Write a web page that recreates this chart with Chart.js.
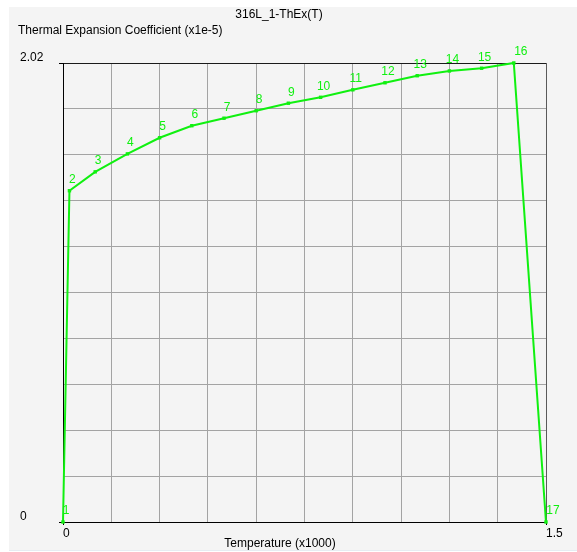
<!DOCTYPE html>
<html>
<head>
<meta charset="utf-8">
<script src="https://cdn.jsdelivr.net/npm/chart.js@4.4.0/dist/chart.umd.min.js"></script>
<style>
  html, body { margin: 0; padding: 0; background: #fff; }
</style>
</head>
<body>
<canvas id="thexChart" width="577" height="552"></canvas>
<script>
// values
const temperature = [0, 0.02, 0.1, 0.2, 0.3, 0.4, 0.5, 0.6, 0.7, 0.8, 0.9, 1.0, 1.1, 1.2, 1.3, 1.4, 1.5];
const coefficient = [0, 1.458, 1.541, 1.620, 1.691, 1.744, 1.777, 1.810, 1.843, 1.869, 1.902, 1.933, 1.964, 1.985, 1.997, 2.02, 0];
const pointNames = ['1', '2', '3', '4', '5', '6', '7', '8', '9', '10', '11', '12', '13', '14', '15', '16', '17'];
const xTickLabels = ['0', '1.5'];
const yTickLabels = ['0', '2.02'];
const xRange = [0, 1.5];
const yRange = [0, 2.02];
const gridDivisions = 10;

const chartTitle = '316L_1-ThEx(T)';
const yTitle = 'Thermal Expansion Coefficient (x1e-5)';
const xTitle = 'Temperature (x1000)';

const green = '#10f010';
const fontFamily = '"Liberation Sans", Arial, sans-serif';

Chart.defaults.font.family = fontFamily;
Chart.defaults.font.size = 12;
Chart.defaults.color = '#000';

// splits an axis range into evenly spaced grid ticks
const gridTicks = (range) => {
  const step = (range[1] - range[0]) / gridDivisions;
  return Array.from({ length: gridDivisions + 1 }, (_, i) => ({ value: range[0] + i * step }));
};

const edgeLabel = (labels) => (value, index) => {
  if (index === 0) return labels[0];
  if (index === gridDivisions) return labels[1];
  return '';
};

// gray panel behind the whole chart plus the free-standing texts
const framePlugin = {
  id: 'frame',
  beforeDraw(chart) {
    const ctx = chart.ctx;
    ctx.save();
    ctx.fillStyle = '#fff';
    ctx.fillRect(0, 0, chart.width, chart.height);
    ctx.fillStyle = '#f4f4f4';
    ctx.fillRect(9, 7, chart.width - 9, 543);
    ctx.fillStyle = '#e6ecf2';
    ctx.fillRect(9, 550, chart.width - 9, 1);
    ctx.restore();
  },
  afterDraw(chart) {
    const ctx = chart.ctx;
    ctx.save();
    ctx.fillStyle = '#000';
    ctx.font = '12px ' + fontFamily;
    ctx.textBaseline = 'middle';
    ctx.textAlign = 'center';
    ctx.fillText(chartTitle, 279, 15);
    ctx.fillText(xTitle, 280, 544);
    ctx.textAlign = 'left';
    ctx.fillText(yTitle, 18, 31);
    ctx.restore();
  }
};

// numbers next to each point
const pointNamePlugin = {
  id: 'pointNames',
  afterDatasetsDraw(chart) {
    const ctx = chart.ctx;
    const meta = chart.getDatasetMeta(0);
    ctx.save();
    ctx.fillStyle = green;
    ctx.font = '12px ' + fontFamily;
    ctx.textAlign = 'center';
    ctx.textBaseline = 'middle';
    meta.data.forEach((pt, i) => {
      let dx = 3;
      if (i === pointNames.length - 1 || i === pointNames.length - 2) dx = 7;
      ctx.fillText(pointNames[i], pt.x + dx, pt.y - 11);
    });
    ctx.restore();
  }
};

new Chart('thexChart', {
  type: 'scatter',
  data: {
    datasets: [
      {
        data: temperature.map((t, i) => ({ x: t, y: coefficient[i] })),
        showLine: true,
        borderColor: green,
        backgroundColor: green,
        borderWidth: 2,
        tension: 0,
        pointStyle: 'rect',
        pointRadius: 1,
        pointHoverRadius: 1,
        clip: false,
      },
    ],
  },
  options: {
    responsive: false,
    animation: false,
    events: [],
    layout: {
      padding: { left: 20, top: 63, right: 31, bottom: 0 },
    },
    scales: {
      x: {
        type: 'linear',
        min: xRange[0],
        max: xRange[1],
        afterBuildTicks: (scale) => { scale.ticks = gridTicks(xRange); },
        afterFit: (scale) => {
          scale.height = 30;
          scale.paddingLeft = 0;
          scale.paddingRight = 0;
        },
        ticks: {
          autoSkip: false,
          maxRotation: 0,
          align: 'start',
          padding: 1,
          color: '#000',
          callback: edgeLabel(xTickLabels),
        },
        grid: {
          color: (ctx) => (ctx.index === gridDivisions ? '#5a5a5a' : '#a3a3a3'),
          tickColor: (ctx) => (ctx.index === 0 || ctx.index === gridDivisions ? '#000' : 'rgba(0,0,0,0)'),
          tickLength: 3,
          lineWidth: 1,
        },
        border: { color: '#000', width: 1 },
      },
      y: {
        type: 'linear',
        min: yRange[0],
        max: yRange[1],
        afterBuildTicks: (scale) => { scale.ticks = gridTicks(yRange); },
        afterFit: (scale) => {
          scale.width = 43;
          scale.paddingTop = 0;
          scale.paddingBottom = 0;
        },
        ticks: {
          autoSkip: false,
          crossAlign: 'far',
          labelOffset: -5,
          color: '#000',
          callback: edgeLabel(yTickLabels),
        },
        grid: {
          color: (ctx) => (ctx.index === gridDivisions ? '#1a1a1a' : '#a3a3a3'),
          tickColor: (ctx) => (ctx.index === 0 || ctx.index === gridDivisions ? '#000' : 'rgba(0,0,0,0)'),
          tickLength: 4,
          lineWidth: 1,
        },
        border: { color: '#000', width: 1 },
      },
    },
    plugins: {
      legend: { display: false },
      title: { display: false },
      tooltip: { enabled: false },
    },
  },
  plugins: [framePlugin, pointNamePlugin],
});
</script>
</body>
</html>
